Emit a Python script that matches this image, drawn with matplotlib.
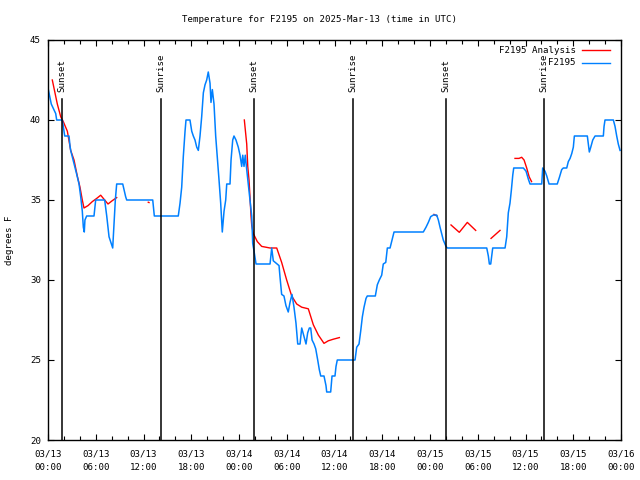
import numpy as np
import matplotlib
matplotlib.use("Agg")
import matplotlib.pyplot as plt
from matplotlib.ticker import MultipleLocator

# ---- data (hours since 2025-03-13 00:00 UTC, degrees F) ----
obs_hours = [0.0, 0.41, 0.97, 1.09, 1.80, 2.10, 2.64, 2.76, 2.85, 3.36, 3.61, 3.90, 4.11, 4.31,
             4.44, 4.56, 4.64, 4.86, 5.78, 5.99, 7.12, 7.38, 7.67, 8.00, 8.13, 8.29, 8.46, 8.63,
             9.39, 9.76, 9.89, 13.16, 13.36, 16.37, 16.59, 16.80, 17.00, 17.22, 17.34, 17.84,
             18.06, 18.26, 18.47, 18.69, 18.89, 19.10, 19.31, 19.52, 19.73, 19.94, 20.14, 20.36,
             20.48, 20.65, 20.86, 21.07, 21.27, 21.49, 21.70, 21.90, 22.12, 22.33, 22.46, 22.87,
             23.00, 23.21, 23.37, 23.62, 23.91, 24.13, 24.34, 24.47, 24.63, 24.79, 24.97, 25.17,
             25.38, 25.60, 25.72, 25.89, 26.14, 27.90, 28.11, 28.31, 28.78, 29.03, 29.15, 29.36,
             29.65, 29.90, 30.19, 30.41, 30.66, 30.91, 31.16, 31.38, 31.67, 31.88, 32.04, 32.21,
             32.42, 32.63, 32.84, 33.01, 33.18, 33.43, 33.64, 33.89, 34.09, 34.27, 34.68, 34.93,
             35.02, 35.52, 35.69, 36.06, 36.19, 36.35, 38.58, 38.79, 39.08, 39.29, 39.50, 39.71,
             39.96, 40.12, 41.13, 41.38, 41.63, 41.93, 42.13, 42.44, 42.64, 42.98, 43.32, 43.48,
             47.16, 47.50, 47.79, 48.09, 48.42, 48.84, 49.05, 49.26, 49.47, 49.67, 50.01, 50.18,
             55.13, 55.33, 55.46, 55.63, 55.88, 57.43, 57.64, 57.84, 58.05, 58.22, 58.40, 58.52,
             59.73, 60.07, 60.36, 60.57, 62.04, 62.16, 62.45, 62.67, 62.96, 63.99, 64.25, 64.55,
             64.75, 65.18, 65.38, 65.60, 65.81, 66.01, 66.14, 67.77, 67.95, 68.02, 68.20, 68.45,
             68.74, 69.78, 69.87, 69.99, 71.04, 71.25, 71.46, 71.66, 71.88]
obs_temp = [42.0, 41.0, 40.4, 40.0, 40.0, 39.0, 39.0, 38.4, 38.1, 37.1, 36.6, 36.0, 35.2, 34.3,
            33.3, 33.0, 33.75, 34.0, 34.0, 35.0, 35.0, 34.0, 32.7, 32.2, 32.0, 33.5, 35.0, 36.0,
            36.0, 35.2, 35.0, 35.0, 34.0, 34.0, 34.8, 35.8, 37.7, 39.3, 40.0, 40.0,
            39.3, 39.0, 38.75, 38.3, 38.1, 39.0, 40.2, 41.7, 42.2, 42.5, 43.0, 42.3,
            41.1, 41.9, 41.0, 39.0, 37.7, 36.25, 34.8, 33.0, 34.3, 35.0, 36.0, 36.0,
            37.5, 38.75, 39.0, 38.75, 38.3, 37.8, 37.1, 37.8, 37.1, 37.8, 36.9, 36.0,
            35.0, 34.0, 32.3, 31.8, 31.0, 31.0, 32.0, 31.2, 31.0, 30.9, 30.2, 29.1,
            29.0, 28.4, 28.0, 28.6, 29.1, 28.3, 27.3, 26.0, 26.0, 27.0, 26.7, 26.4,
            26.0, 26.7, 27.0, 27.0, 26.25, 26.0, 25.7, 25.0, 24.4, 24.0, 24.0, 23.4,
            23.0, 23.0, 24.0, 24.0, 24.6, 25.0, 25.0, 25.8, 26.0, 26.8, 27.7, 28.3,
            28.85, 29.0, 29.0, 29.7, 30.0, 30.3, 31.0, 31.1, 32.0, 32.0, 32.7, 33.0,
            33.0, 33.3, 33.6, 33.96, 34.06, 34.06, 33.75, 33.3, 32.9, 32.5, 32.1, 32.0,
            32.0, 31.5, 31.0, 31.0, 32.0, 32.0, 32.7, 34.2, 34.8, 35.6, 36.56, 37.0,
            37.0, 36.8, 36.3, 36.0, 36.0, 37.0, 36.8, 36.5, 36.0, 36.0, 36.4, 36.9,
            37.0, 37.0, 37.4, 37.6, 37.9, 38.3, 39.0, 39.0, 38.3, 38.0, 38.3, 38.75,
            39.0, 39.0, 39.6, 40.0, 40.0, 39.6, 39.0, 38.5, 38.1]

nan = float("nan")
ana_hours = [0.54, 1.17, 1.60, 1.92, 2.43, 2.85, 3.27, 3.68, 4.02, 4.31, 4.52, 5.03, 5.57, 6.12,
             6.62, 7.12, 7.54, 8.08, 8.63, nan, 12.60, 12.69, nan,
             24.67, 24.97, 25.10, 25.26, 25.38, 25.51, 25.60, 25.80, 26.30, 26.85, 27.90, 28.74,
             29.36, 29.99, 30.62, 31.25, 31.88, 32.71, 33.34, 33.97, 34.68, 35.22, 35.85, 36.61,
             nan, 48.50, 48.88, nan, 50.64, 51.68, 52.69, 53.74, nan, 55.67, 56.80, nan,
             58.68, 59.18, 59.52, 59.82, 60.15, 60.46, 60.76]
ana_temp = [42.5, 41.0, 40.2, 39.9, 39.3, 38.1, 37.5, 36.5, 35.8, 35.0, 34.5, 34.65, 34.9, 35.1,
            35.3, 35.0, 34.75, 34.96, 35.15, nan, 34.86, 34.84, nan,
            40.0, 38.5, 37.1, 36.25, 35.2, 34.0, 33.4, 32.9, 32.4, 32.1, 32.0, 32.0,
            31.1, 30.0, 29.0, 28.5, 28.3, 28.2, 27.2, 26.56, 26.04, 26.2, 26.3, 26.4,
            nan, 34.1, 34.0, nan, 33.44, 32.98, 33.6, 33.1, nan, 32.6, 33.1, nan,
            37.6, 37.6, 37.67, 37.5, 37.0, 36.45, 36.15]

event_hours = [1.78, 14.2, 25.92, 38.37, 50.05, 62.37]
event_labels = ["Sunset", "Sunrise", "Sunset", "Sunrise", "Sunset", "Sunrise"]

xtick_hours = [0, 6, 12, 18, 24, 30, 36, 42, 48, 54, 60, 66, 72]
xtick_labels = ["03/13\n00:00", "03/13\n06:00", "03/13\n12:00", "03/13\n18:00",
                "03/14\n00:00", "03/14\n06:00", "03/14\n12:00", "03/14\n18:00",
                "03/15\n00:00", "03/15\n06:00", "03/15\n12:00", "03/15\n18:00",
                "03/16\n00:00"]
ytick_vals = [20, 25, 30, 35, 40, 45]

title = "Temperature for F2195 on 2025-Mar-13 (time in UTC)"
ylabel = "degrees F"
series_labels = ["F2195 Analysis", "F2195"]

# ---- drawing ----
FONT = "DejaVu Sans Mono"
FS = 6.6
plt.rcParams["font.family"] = FONT

fig = plt.figure(figsize=(6.4, 4.8), dpi=100)
ax = fig.add_axes([48 / 640, 40 / 480, 573 / 640, 400 / 480])

ax.plot(ana_hours, ana_temp, color="#ff0000", lw=1.0)
ax.plot(obs_hours, obs_temp, color="#0080ff", lw=1.1)

for h, lab in zip(event_hours, event_labels):
    ax.axvline(h, ymin=0, ymax=0.853, color="black", lw=1.1)
    ax.text(h, 0.87, lab, rotation=90, ha="center", va="bottom", fontsize=FS,
            transform=ax.get_xaxis_transform())

ax.set_xlim(0, 72)
ax.set_ylim(20, 45)
ax.set_xticks(xtick_hours)
ax.set_xticklabels(xtick_labels, fontsize=FS, linespacing=1.6)
ax.xaxis.set_minor_locator(MultipleLocator(2))
ax.set_yticks(ytick_vals)
ax.set_yticklabels([str(v) for v in ytick_vals], fontsize=FS)
ax.tick_params(axis="both", which="both", direction="in", top=True, right=True,
               length=4, width=0.8, pad=5)
ax.tick_params(axis="x", which="major", pad=7)
ax.tick_params(axis="x", which="minor", length=3)
for s in ax.spines.values():
    s.set_linewidth(1.0)

# legend (gnuplot style: right-aligned text, sample line after)
colors = ["#ff0000", "#0080ff"]
for i, (lab, c) in enumerate(zip(series_labels, colors)):
    yy = 0.974 - i * 0.031
    ax.text(0.921, yy, lab, ha="right", va="center", fontsize=FS, transform=ax.transAxes)
    ax.plot([0.932, 0.981], [yy, yy], color=c, lw=1.0, transform=ax.transAxes)

fig.text(0.5, 1 - 19 / 480, title, ha="center", va="center", fontsize=FS)
fig.text(10 / 640, 0.5, ylabel, rotation=90, ha="center", va="center", fontsize=FS)

fig.savefig("out.png", dpi=100)
